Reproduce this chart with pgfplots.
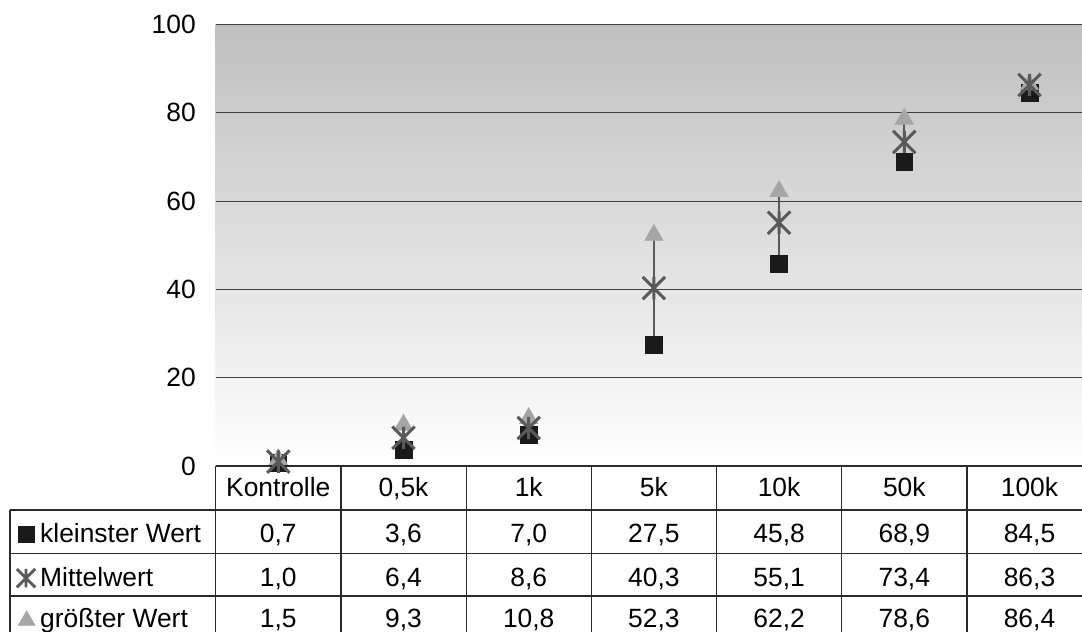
\documentclass[border=0pt]{standalone}
\usepackage{fontspec}
\setmainfont{Liberation Sans}
\usepackage{pgfplots}
\pgfplotsset{compat=1.18}
\usepackage{pgfplotstable}
\definecolor{sq}{HTML}{1A1A1A}
\definecolor{st}{HTML}{595959}
\definecolor{tr}{HTML}{A6A6A6}
\definecolor{hl}{HTML}{5A5A5A}
\definecolor{grd}{HTML}{404040}
\definecolor{tl}{HTML}{2A2A2A}
\pgfdeclareplotmark{xstar}{%
  \pgfpathmoveto{\pgfqpoint{-\pgfplotmarksize}{-\pgfplotmarksize}}%
  \pgfpathlineto{\pgfqpoint{\pgfplotmarksize}{\pgfplotmarksize}}%
  \pgfpathmoveto{\pgfqpoint{-\pgfplotmarksize}{\pgfplotmarksize}}%
  \pgfpathlineto{\pgfqpoint{\pgfplotmarksize}{-\pgfplotmarksize}}%
  \pgfpathmoveto{\pgfqpoint{0pt}{-\pgfplotmarksize}}%
  \pgfpathlineto{\pgfqpoint{0pt}{\pgfplotmarksize}}%
  \pgfusepathqstroke
}
\pgfplotstableread{
x low mean high
0 0.7 1.0 1.5
1 3.6 6.4 9.3
2 7.0 8.6 10.8
3 27.5 40.3 52.3
4 45.8 55.1 62.2
5 68.9 73.4 78.6
6 84.5 86.3 86.4
}\data
\begin{document}
\fontsize{13.2}{15.8}\selectfont
\begin{tikzpicture}
\begin{axis}[
  at={(107.85pt,83pt)}, anchor=south west,
  scale only axis, width=438.2pt, height=220.75pt,
  xmin=-0.5, xmax=6.5, ymin=0, ymax=100,
  xtick=\empty,
  ytick={0,20,40,60,80,100},
  /pgf/number format/assume math mode=true,
  yticklabel style={anchor=east, inner sep=0pt, xshift=-9.8pt},
  axis line style={draw=none},
  major tick length=0pt,
  ymajorgrids,
  major grid style={grd, line width=0.55pt},
  axis background/.style={shade, top color=black!25, bottom color=white},
  clip=false,
]
% high-low lines
\addplot[only marks, mark=none, forget plot,
  error bars/.cd, y dir=plus, y explicit, error mark=none,
  error bar style={draw=hl, solid, line width=0.9pt}]
  table[x=x, y=low, y error expr=\thisrow{high}-\thisrow{low}] {\data};
\addplot[only marks, mark=square*, mark size=4.2pt, color=sq] table[x=x, y=low] {\data};
\addplot[only marks, mark=triangle*, mark size=5.2pt, color=tr] table[x=x, y=high] {\data};
\addplot[only marks, mark=xstar, mark size=5.6pt, color=st, mark options={line width=1.5pt}] table[x=x, y=mean] {\data};
% legend keys in table
\addplot[only marks, mark=square*, mark size=4pt, color=sq, forget plot] coordinates {(-2.01,-15.6)};
\addplot[only marks, mark=xstar, mark size=4.6pt, color=st, mark options={line width=1.4pt}, forget plot] coordinates {(-2.015,-25.4)};
\addplot[only marks, mark=triangle*, mark size=4.8pt, color=tr, forget plot] coordinates {(-2.01,-35.0)};
% table lines
\draw[tl, line width=0.6pt] (axis cs:-0.5,0) -- (axis cs:7,0);
\draw[tl, line width=0.6pt] (axis cs:-2.143,-9.966) -- (axis cs:7,-9.966);
\draw[tl, line width=0.6pt] (axis cs:-2.143,-19.77) -- (axis cs:7,-19.77);
\draw[tl, line width=0.6pt] (axis cs:-2.143,-29.45) -- (axis cs:7,-29.45);
\draw[tl, line width=0.6pt] (axis cs:-2.143,-9.966) -- (axis cs:-2.143,-42);
\pgfplotsinvokeforeach{-0.5,0.5,1.5,2.5,3.5,4.5,5.5}{
  \draw[tl, line width=0.6pt] (axis cs:#1,0) -- (axis cs:#1,-42);
}
% header
\node[anchor=base] at (axis cs:0,-7.02) {Kontrolle};
\node[anchor=base] at (axis cs:1,-7.02) {0,5k};
\node[anchor=base] at (axis cs:2,-7.02) {1k};
\node[anchor=base] at (axis cs:3,-7.02) {5k};
\node[anchor=base] at (axis cs:4,-7.02) {10k};
\node[anchor=base] at (axis cs:5,-7.02) {50k};
\node[anchor=base] at (axis cs:6,-7.02) {100k};
% row labels
\node[anchor=base west, inner sep=0pt] at (axis cs:-1.905,-17.44) {kleinster Wert};
\node[anchor=base west, inner sep=0pt] at (axis cs:-1.905,-27.18) {Mittelwert};
\node[anchor=base west, inner sep=0pt] at (axis cs:-1.905,-36.69) {größter Wert};
% values
\node[anchor=base] at (axis cs:0,-17.44) {0,7};
\node[anchor=base] at (axis cs:1,-17.44) {3,6};
\node[anchor=base] at (axis cs:2,-17.44) {7,0};
\node[anchor=base] at (axis cs:3,-17.44) {27,5};
\node[anchor=base] at (axis cs:4,-17.44) {45,8};
\node[anchor=base] at (axis cs:5,-17.44) {68,9};
\node[anchor=base] at (axis cs:6,-17.44) {84,5};
\node[anchor=base] at (axis cs:0,-27.18) {1,0};
\node[anchor=base] at (axis cs:1,-27.18) {6,4};
\node[anchor=base] at (axis cs:2,-27.18) {8,6};
\node[anchor=base] at (axis cs:3,-27.18) {40,3};
\node[anchor=base] at (axis cs:4,-27.18) {55,1};
\node[anchor=base] at (axis cs:5,-27.18) {73,4};
\node[anchor=base] at (axis cs:6,-27.18) {86,3};
\node[anchor=base] at (axis cs:0,-36.69) {1,5};
\node[anchor=base] at (axis cs:1,-36.69) {9,3};
\node[anchor=base] at (axis cs:2,-36.69) {10,8};
\node[anchor=base] at (axis cs:3,-36.69) {52,3};
\node[anchor=base] at (axis cs:4,-36.69) {62,2};
\node[anchor=base] at (axis cs:5,-36.69) {78,6};
\node[anchor=base] at (axis cs:6,-36.69) {86,4};
\end{axis}
\pgfresetboundingbox
\path[use as bounding box] (0,0) rectangle (541pt,316pt);
\end{tikzpicture}
\end{document}
